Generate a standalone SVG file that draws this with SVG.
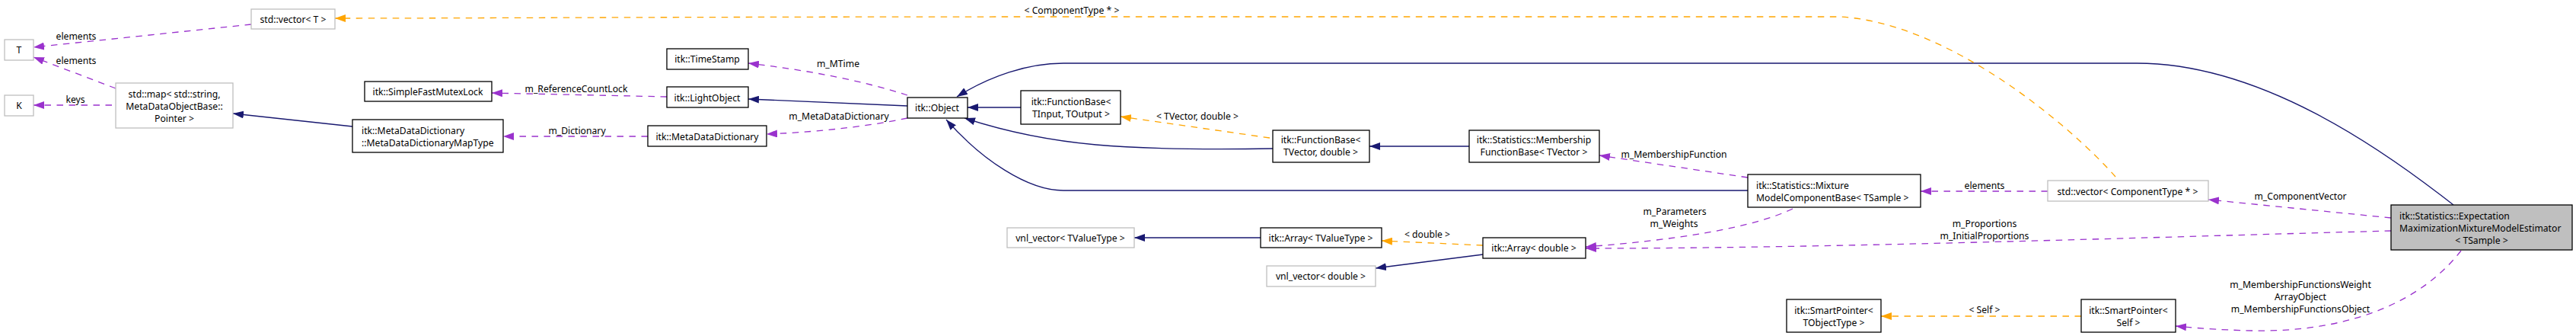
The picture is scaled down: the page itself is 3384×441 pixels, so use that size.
<svg xmlns="http://www.w3.org/2000/svg" width="3384" height="441" viewBox="0 0 3384 441">
<style>
.bg{fill:#ffffff}
.n rect{fill:#ffffff;stroke:#000000;stroke-width:1.3}
.n.ext rect{stroke:#bfbfbf}
.n.main rect{fill:#bfbfbf}
text{font-family:"Noto Sans","Open Sans","DejaVu Sans",sans-serif;font-size:12.2px;fill:#000000}
.c{text-anchor:middle}
.l{text-anchor:start}
.e{fill:none;stroke-width:1.3}
.inh{stroke:#191970;marker-end:url(#aN)}
.use{stroke:#9a32cd;stroke-dasharray:8.5,7.5;marker-end:url(#aP)}
.tpl{stroke:#ffa500;stroke-dasharray:8.5,7.5;marker-end:url(#aO)}
</style>
<defs>
<marker id="aN" markerUnits="userSpaceOnUse" markerWidth="14" markerHeight="10" refX="14" refY="5" orient="auto"><path d="M0,0 L14,5 L0,10 z" fill="#191970"/></marker>
<marker id="aP" markerUnits="userSpaceOnUse" markerWidth="14" markerHeight="10" refX="14" refY="5" orient="auto"><path d="M0,0 L14,5 L0,10 z" fill="#9a32cd"/></marker>
<marker id="aO" markerUnits="userSpaceOnUse" markerWidth="14" markerHeight="10" refX="14" refY="5" orient="auto"><path d="M0,0 L14,5 L0,10 z" fill="#ffa500"/></marker>
</defs>
<rect class="bg" x="0" y="0" width="3384" height="441"/>
<g id="connectors">
<path class="e use" d="M330,32 L44,62"/>
<text class="c" x="100" y="51.5">elements</text>
<path class="e use" d="M152,116 L44,75"/>
<text class="c" x="100" y="83.5">elements</text>
<path class="e use" d="M147,138 L44,138"/>
<text class="c" x="99" y="134.5">keys</text>
<path class="e inh" d="M463,166 L306,149"/>
<path class="e use" d="M876,127 L646,122"/>
<text class="c" x="757" y="120.5">m_ReferenceCountLock</text>
<path class="e use" d="M851,179 L661,179"/>
<text class="c" x="758" y="175.5">m_Dictionary</text>
<path class="e use" d="M1192,125 C1130,105 1060,92 983,83"/>
<text class="c" x="1101" y="87.5">m_MTime</text>
<path class="e inh" d="M1192,139 L983,130"/>
<path class="e use" d="M1192,155 C1130,168 1060,174 1007,176"/>
<text class="c" x="1102" y="156.5">m_MetaDataDictionary</text>
<path class="e inh" d="M1341,141 L1271,141"/>
<path class="e inh" d="M3223,269 C3130,196 2970,83 2807,83 L1397,83 C1350,83 1300,100 1257,127"/>
<path class="e inh" d="M1672,195 C1480,198 1380,192 1267,155"/>
<path class="e inh" d="M1930,192 L1799,192"/>
<path class="e tpl" d="M1668,181 L1472,153"/>
<text class="c" x="1573" y="156.5">&lt; TVector, double &gt;</text>
<path class="e inh" d="M2296,250 L1397,250 C1350,250 1290,210 1243,157"/>
<path class="e use" d="M2296,233 L2101,204"/>
<text class="c" x="2199" y="206.5">m_MembershipFunction</text>
<path class="e use" d="M2690,251 L2523,251"/>
<text class="c" x="2607" y="247.5">elements</text>
<path class="e tpl" d="M2779,232 C2720,165 2560,30 2417,22 L1400,22 C900,22 600,24 440,24"/>
<text class="c" x="1408" y="17.5">&lt; ComponentType * &gt;</text>
<path class="e inh" d="M1656,312 L1490,312"/>
<path class="e tpl" d="M1948,322 L1815,316"/>
<text class="c" x="1875" y="311.5">&lt; double &gt;</text>
<path class="e inh" d="M1948,334 L1807,352"/>
<path class="e use" d="M2355,274 C2300,300 2200,315 2083,324"/>
<text class="c" x="2200" y="281.5">m_Parameters</text>
<text class="c" x="2199" y="297.5">m_Weights</text>
<path class="e use" d="M3141,303 C2800,312 2400,326 2083,326"/>
<text class="c" x="2607" y="297.5">m_Proportions</text>
<text class="c" x="2607" y="313.5">m_InitialProportions</text>
<path class="e use" d="M3141,286 L2901,262"/>
<text class="c" x="3022" y="261.5">m_ComponentVector</text>
<path class="e tpl" d="M2734,415 L2471,415"/>
<text class="c" x="2607" y="410.5">&lt; Self &gt;</text>
<path class="e use" d="M3233,329 C3170,410 3060,436 2960,434 C2910,433 2880,430 2858,428"/>
<text class="c" x="3022" y="377.5">m_MembershipFunctionsWeight</text>
<text class="c" x="3022" y="393.5">ArrayObject</text>
<text class="c" x="3022" y="409.5">m_MembershipFunctionsObject</text>
</g>
<g id="node-vectorT" class="n ext"><rect x="330" y="12" width="110" height="26"/><text class="c" x="385" y="29.5">std::vector&lt; T &gt;</text></g>
<g id="node-T" class="n ext"><rect x="6" y="52" width="38" height="27"/><text class="c" x="25" y="69.5">T</text></g>
<g id="node-K" class="n ext"><rect x="6" y="125" width="38" height="27"/><text class="c" x="25" y="142.5">K</text></g>
<g id="node-map" class="n ext"><rect x="152" y="109" width="154" height="59"/><text class="c" x="229" y="127.5">std::map&lt; std::string,</text><text class="c" x="229" y="143.5">MetaDataObjectBase::</text><text class="c" x="229" y="159.5">Pointer &gt;</text></g>
<g id="node-mutex" class="n"><rect x="479" y="107" width="167" height="26"/><text class="c" x="562" y="124.5">itk::SimpleFastMutexLock</text></g>
<g id="node-maptype" class="n"><rect x="463" y="157" width="198" height="43"/><text class="l" x="475" y="175.5">itk::MetaDataDictionary</text><text class="l" x="475" y="191.5">::MetaDataDictionaryMapType</text></g>
<g id="node-timestamp" class="n"><rect x="876" y="64" width="107" height="27"/><text class="c" x="929" y="81.5">itk::TimeStamp</text></g>
<g id="node-lightobject" class="n"><rect x="876" y="114" width="107" height="27"/><text class="c" x="929" y="132.5">itk::LightObject</text></g>
<g id="node-mdd" class="n"><rect x="851" y="165" width="156" height="27"/><text class="c" x="929" y="183.5">itk::MetaDataDictionary</text></g>
<g id="node-object" class="n"><rect x="1192" y="128" width="79" height="27"/><text class="c" x="1231" y="145.5">itk::Object</text></g>
<g id="node-fbIO" class="n"><rect x="1341" y="119" width="131" height="44"/><text class="c" x="1407" y="137.5">itk::FunctionBase&lt;</text><text class="c" x="1407" y="153.5">TInput, TOutput &gt;</text></g>
<g id="node-fbVD" class="n"><rect x="1672" y="171" width="127" height="42"/><text class="c" x="1735" y="187.5">itk::FunctionBase&lt;</text><text class="c" x="1735" y="203.5">TVector, double &gt;</text></g>
<g id="node-membership" class="n"><rect x="1930" y="171" width="171" height="42"/><text class="c" x="2015" y="187.5">itk::Statistics::Membership</text><text class="c" x="2015" y="203.5">FunctionBase&lt; TVector &gt;</text></g>
<g id="node-vnlT" class="n ext"><rect x="1323" y="299" width="167" height="26"/><text class="c" x="1406" y="316.5">vnl_vector&lt; TValueType &gt;</text></g>
<g id="node-arrT" class="n"><rect x="1656" y="299" width="159" height="26"/><text class="c" x="1735" y="316.5">itk::Array&lt; TValueType &gt;</text></g>
<g id="node-vnlD" class="n ext"><rect x="1664" y="349" width="143" height="27"/><text class="c" x="1735" y="366.5">vnl_vector&lt; double &gt;</text></g>
<g id="node-arrD" class="n"><rect x="1948" y="312" width="135" height="27"/><text class="c" x="2015" y="329.5">itk::Array&lt; double &gt;</text></g>
<g id="node-mixture" class="n"><rect x="2296" y="229" width="227" height="43"/><text class="l" x="2307" y="247.5">itk::Statistics::Mixture</text><text class="l" x="2307" y="263.5">ModelComponentBase&lt; TSample &gt;</text></g>
<g id="node-vecC" class="n ext"><rect x="2690" y="237" width="211" height="27"/><text class="c" x="2795" y="255.5">std::vector&lt; ComponentType * &gt;</text></g>
<g id="node-spT" class="n"><rect x="2347" y="393" width="124" height="43"/><text class="c" x="2409" y="411.5">itk::SmartPointer&lt;</text><text class="c" x="2409" y="427.5">TObjectType &gt;</text></g>
<g id="node-spS" class="n"><rect x="2734" y="393" width="124" height="43"/><text class="c" x="2796" y="411.5">itk::SmartPointer&lt;</text><text class="c" x="2796" y="427.5">Self &gt;</text></g>
<g id="node-em" class="n main"><rect x="3141" y="269" width="238" height="59"/><text class="l" x="3152" y="287.5">itk::Statistics::Expectation</text><text class="l" x="3152" y="303.5">MaximizationMixtureModelEstimator</text><text class="c" x="3260" y="319.5">&lt; TSample &gt;</text></g>
</svg>
